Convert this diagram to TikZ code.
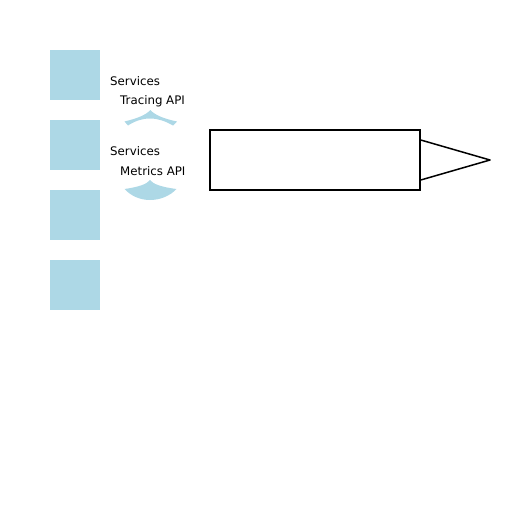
\documentclass[tikz,border=0pt]{standalone}
\usepackage{fontspec}
\setmainfont{DejaVu Sans}
\begin{document}
\begin{tikzpicture}[x=1pt,y=-1pt,
  blk/.style={fill={rgb,255:red,173;green,216;blue,230},draw=none},
  lbl/.style={anchor=west,inner sep=0pt,font=\fontsize{11.8}{14}\selectfont},
  outl/.style={draw=black,line width=1.5pt}]
\useasboundingbox (0,0) rectangle (512,512);
\node[blk,minimum width=50pt,minimum height=50pt,inner sep=0pt] (s1) at (75,75) {};
\node[blk,minimum width=50pt,minimum height=50pt,inner sep=0pt] (s2) at (75,145) {};
\node[blk,minimum width=50pt,minimum height=50pt,inner sep=0pt] (s3) at (75,215) {};
\node[blk,minimum width=50pt,minimum height=50pt,inner sep=0pt] (s4) at (75,285) {};
\node[lbl] (t1) at (110,81) {Services};
\node[lbl] (t2) at (120,101) {Tracing API};
\node[lbl] (t3) at (110,151) {Services};
\node[lbl] (t4) at (120,171) {Metrics API};
\fill[blk] (124.5,121.5) .. controls (137,118.5) and (146,115) .. (150.3,110)
  .. controls (155,115) and (163,118.5) .. (177,121.5)
  -- (173,125.5)
  .. controls (165,121) and (158,118.5) .. (150,118.5)
  .. controls (142,118.5) and (135,121) .. (128,125.5)
  -- cycle;
\fill[blk] (124.5,189) .. controls (139,187) and (147,184) .. (150,180)
  .. controls (153,184) and (161,187) .. (176.5,189)
  .. controls (170,196) and (160,200) .. (150,200)
  .. controls (140,200) and (131,196) .. (124.5,189) -- cycle;
\node[outl,minimum width=210pt,minimum height=60pt,inner sep=0pt] (box) at (315,160) {};
\coordinate (tip) at (490,160);
\draw[outl,line join=round] ([yshift=20pt]box.east) -- (tip) -- ([yshift=-20pt]box.east);
\end{tikzpicture}
\end{document}
